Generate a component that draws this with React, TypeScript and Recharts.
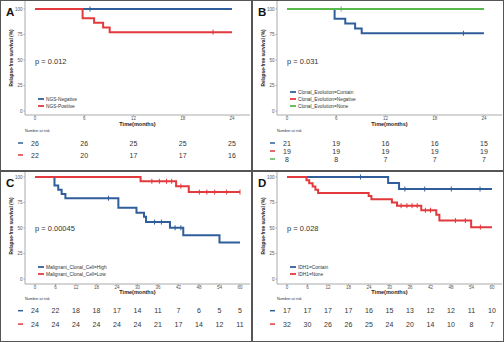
import React from 'react'
import { LineChart, Line, XAxis, YAxis, ScatterChart, Scatter } from 'recharts'

const BLUE = '#2f5e9b'
const RED = '#e2393d'
const GREEN = '#58b84e'
const FONT = '"Liberation Sans", Arial, sans-serif'

type Pt = { t: number; s: number; c?: boolean }

const months24 = [0, 6, 12, 18, 24]
const months60 = [0, 6, 12, 18, 24, 30, 36, 42, 48, 54, 60]
const survTicks = [0, 25, 50, 75, 100]

// A: NGS
const ngsNegative: Pt[] = [{ t: 0, s: 100 }, { t: 6.7, s: 100, c: true }, { t: 24, s: 100 }]
const ngsPositive: Pt[] = [
  { t: 0, s: 100 }, { t: 5.8, s: 90.9 }, { t: 7.2, s: 86.4 }, { t: 8.3, s: 81.8 },
  { t: 9.1, s: 77.3 }, { t: 21.7, s: 77.3, c: true }, { t: 24, s: 77.3 },
]
const riskNgsNegative = [26, 26, 25, 25, 25]
const riskNgsPositive = [22, 20, 17, 17, 16]

// B: clonal evolution
const clonalContain: Pt[] = [
  { t: 0, s: 100 }, { t: 5.8, s: 90.5 }, { t: 7.1, s: 85.7 }, { t: 8.3, s: 81.0 },
  { t: 9.1, s: 76.2 }, { t: 21.5, s: 76.2, c: true }, { t: 24, s: 76.2 },
]
const clonalNegative: Pt[] = [{ t: 0, s: 100 }, { t: 24, s: 100 }]
const clonalNone: Pt[] = [{ t: 0, s: 100 }, { t: 6.6, s: 100, c: true }, { t: 24, s: 100 }]
const riskClonalContain = [21, 19, 16, 16, 15]
const riskClonalNegative = [19, 19, 19, 19, 19]
const riskClonalNone = [8, 8, 7, 7, 7]

// C: malignant clonal cell
const cellHigh: Pt[] = [
  { t: 0, s: 100 }, { t: 5.7, s: 91.7 }, { t: 6.8, s: 87.5 }, { t: 7.8, s: 83.3 },
  { t: 8.9, s: 79.2 }, { t: 21.5, s: 79.2, c: true }, { t: 24.4, s: 69.9 },
  { t: 29.7, s: 64.9 }, { t: 31.9, s: 61.0 }, { t: 32.5, s: 55.8 },
  { t: 35.0, s: 55.8, c: true }, { t: 37.0, s: 55.8, c: true }, { t: 39.5, s: 50.2 },
  { t: 41.0, s: 50.2, c: true }, { t: 42.7, s: 50.2, c: true }, { t: 43.4, s: 42.9 },
  { t: 54.0, s: 35.8 }, { t: 60, s: 35.8 },
]
const cellLow: Pt[] = [
  { t: 0, s: 100 }, { t: 30.9, s: 95.8 }, { t: 34.2, s: 95.8, c: true },
  { t: 36.4, s: 95.8, c: true }, { t: 38.5, s: 95.8, c: true }, { t: 40.0, s: 95.8, c: true },
  { t: 41.3, s: 91.0 }, { t: 42.7, s: 91.0, c: true }, { t: 45.0, s: 85.2 },
  { t: 48.1, s: 85.2, c: true }, { t: 50.3, s: 85.2, c: true }, { t: 52.6, s: 85.2, c: true },
  { t: 56.1, s: 85.2, c: true }, { t: 60, s: 85.2, c: true },
]
const riskCellHigh = [24, 22, 18, 18, 17, 14, 11, 7, 6, 5, 5]
const riskCellLow = [24, 24, 24, 24, 24, 24, 21, 17, 14, 12, 11]

// D: IDH1
const idhContain: Pt[] = [
  { t: 0, s: 100 }, { t: 21.5, s: 100, c: true }, { t: 29.6, s: 94.1 }, { t: 32.8, s: 88.2 },
  { t: 34.5, s: 88.2, c: true }, { t: 40.3, s: 88.2, c: true }, { t: 48.1, s: 88.2, c: true },
  { t: 56.5, s: 88.2, c: true }, { t: 60, s: 88.2 },
]
const idhNone: Pt[] = [
  { t: 0, s: 100 }, { t: 5.7, s: 96.9 }, { t: 6.5, s: 93.8 }, { t: 7.5, s: 90.6 },
  { t: 8.3, s: 87.5 }, { t: 9.1, s: 84.4 }, { t: 23.9, s: 81.3 }, { t: 24.7, s: 78.1 },
  { t: 30.7, s: 75.0 }, { t: 32.2, s: 71.9 }, { t: 33.4, s: 71.9, c: true },
  { t: 35.1, s: 71.9, c: true }, { t: 36.6, s: 71.9, c: true }, { t: 38.1, s: 71.9, c: true },
  { t: 39.3, s: 67.4 }, { t: 40.5, s: 67.4, c: true }, { t: 42.0, s: 67.4, c: true },
  { t: 43.7, s: 63.0 }, { t: 44.6, s: 57.3 }, { t: 49.3, s: 57.3, c: true },
  { t: 52.2, s: 57.3, c: true }, { t: 53.9, s: 50.8 }, { t: 56.6, s: 50.8, c: true },
  { t: 60, s: 50.8 },
]
const riskIdhContain = [17, 17, 17, 17, 16, 15, 13, 12, 12, 11, 10]
const riskIdhNone = [32, 30, 26, 26, 25, 24, 20, 14, 10, 8, 7]

type Series = { name: string; color: string; data: Pt[] }

const geo24 = {
  xDomain: [-1.22, 26.2], yDomain: [-3.92, 107.84], plotBottom: 115,
  xTitleY: 124, riskHeadY: 131, yTitleY: 58, pY: 61,
}
const geo60 = {
  xDomain: [-2.93, 62.93], yDomain: [-4.9, 104.9], plotBottom: 113,
  xTitleY: 121, riskHeadY: 128, yTitleY: 55, pY: 57,
}

const censorDot = (color: string) => (props: any) => {
  const { cx, cy, payload, index } = props
  if (!payload || !payload.c) return <g key={index} />
  return <line key={index} x1={cx} x2={cx} y1={cy - 2.5} y2={cy + 2.5} stroke={color} strokeWidth={1} />
}

const riskText = (props: any) => (
  <text x={props.cx} y={props.cy} textAnchor="middle" dominantBaseline="central"
    fontSize={7} fill="#333" fontFamily={FONT}>{props.payload.n}</text>
)

interface PanelProps {
  letter: string
  left: number
  top: number
  geo: typeof geo24
  times: number[]
  series: Series[]
  risk: { color: string; values: number[] }[]
  riskTop: number
  riskH: number
  pValue: string
  legendY: number[]
}

const Panel = ({ letter, left, top, geo, times, series, risk, riskTop, riskH, pValue, legendY }: PanelProps) => {
  const rows = risk.length
  const riskData = risk.map((r, i) => times.map((t, j) => ({ t, row: rows - i, n: r.values[j] })))
  const rowColor = (v: number) => risk[rows - v]?.color ?? '#000'
  const tickStyle = { fontSize: 4.5, fill: '#555', fontFamily: FONT }

  return (
    <div style={{ position: 'absolute', left, top, width: 252, height: 171, boxSizing: 'border-box', border: '1px solid #555', overflow: 'hidden', background: '#fff' }}>
      <div style={{ position: 'absolute', left: -1, top: -1 }}>
        <LineChart width={252} height={geo.plotBottom + 14} margin={{ top: 1, right: 2, bottom: 0, left: 0 }}>
          <XAxis type="number" dataKey="t" domain={geo.xDomain} ticks={times} allowDataOverflow interval={0}
            height={14} tickSize={1.5} tickMargin={0.5} tick={tickStyle}
            axisLine={{ stroke: '#aaa' }} tickLine={{ stroke: '#aaa' }} />
          <YAxis type="number" domain={geo.yDomain} ticks={survTicks} allowDataOverflow width={25} interval={0}
            tickSize={1.5} tickMargin={1} tick={tickStyle}
            axisLine={{ stroke: '#aaa' }} tickLine={{ stroke: '#aaa' }} />
          <YAxis yAxisId="frame" orientation="right" type="number" domain={[0, 1]} width={0}
            tick={false} tickLine={false} axisLine={{ stroke: '#ddd' }} />
          {series.map((s) => (
            <Line key={s.name} data={s.data} dataKey="s" type="stepAfter" stroke={s.color}
              strokeWidth={2} dot={censorDot(s.color)} activeDot={false} isAnimationActive={false} />
          ))}
        </LineChart>
      </div>
      <div style={{ position: 'absolute', left: -1, top: riskTop - 1 }}>
        <ScatterChart width={252} height={riskH} margin={{ top: 0, right: 2, bottom: 0, left: 0 }}>
          <XAxis type="number" dataKey="t" domain={geo.xDomain} allowDataOverflow hide />
          <YAxis type="number" dataKey="row" domain={[0.5, rows + 0.5]} ticks={risk.map((_, i) => i + 1)}
            interval={0} width={25} axisLine={false} tickLine={false} tickSize={0} tickMargin={0}
            tick={(p: any) => (
              <line key={p.index} x1={p.x - 7} x2={p.x - 2} y1={p.y} y2={p.y}
                stroke={rowColor(p.payload.value)} strokeWidth={1.5} />
            )} />
          {riskData.map((d, i) => (
            <Scatter key={i} data={d} shape={riskText} isAnimationActive={false} />
          ))}
        </ScatterChart>
      </div>
      <svg width={252} height={171} style={{ position: 'absolute', left: -1, top: -1, pointerEvents: 'none' }}
        fontFamily={FONT}>
        <text x={6} y={15.5} fontSize={11.5} fontWeight="bold" fill="#111">{letter}</text>
        <text x={11} y={geo.yTitleY} transform={`rotate(-90 11 ${geo.yTitleY})`} textAnchor="middle"
          dominantBaseline="central" fontSize={4.8} fontWeight="bold" fill="#222">Relapse-free survival (%)</text>
        <text x={137.5} y={geo.xTitleY} textAnchor="middle" dominantBaseline="central" fontSize={5.5}
          fontWeight="bold" fill="#222">Time(months)</text>
        <text x={35} y={geo.pY} dominantBaseline="central" fontSize={7.5} fill="#333">{pValue}</text>
        {series.map((s, i) => (
          <g key={s.name}>
            <line x1={38} x2={44} y1={legendY[i]} y2={legendY[i]} stroke={s.color} strokeWidth={1.8} />
            <text x={46} y={legendY[i]} dominantBaseline="central" fontSize={4.8} fill="#333">{s.name}</text>
          </g>
        ))}
        <text x={25} y={geo.riskHeadY} dominantBaseline="central" fontSize={3.8} fill="#333">Number at risk</text>
      </svg>
    </div>
  )
}

export default function App() {
  return (
    <div style={{ position: 'absolute', left: 0, top: 0, width: 504, height: 342, background: '#fff' }}>
      <Panel letter="A" left={0} top={0} geo={geo24} times={months24} pValue="p = 0.012"
        series={[
          { name: 'NGS-Negative', color: BLUE, data: ngsNegative },
          { name: 'NGS-Positive', color: RED, data: ngsPositive },
        ]}
        risk={[{ color: BLUE, values: riskNgsNegative }, { color: RED, values: riskNgsPositive }]}
        riskTop={137} riskH={24} legendY={[99, 106]} />
      <Panel letter="B" left={252} top={0} geo={geo24} times={months24} pValue="p = 0.031"
        series={[
          { name: 'Clonal_Evolution=Contain', color: BLUE, data: clonalContain },
          { name: 'Clonal_Evolution=Negative', color: RED, data: clonalNegative },
          { name: 'Clonal_Evolution=None', color: GREEN, data: clonalNone },
        ]}
        risk={[
          { color: BLUE, values: riskClonalContain },
          { color: RED, values: riskClonalNegative },
          { color: GREEN, values: riskClonalNone },
        ]}
        riskTop={139} riskH={24} legendY={[92, 99, 106]} />
      <Panel letter="C" left={0} top={171} geo={geo60} times={months60} pValue="p = 0.00045"
        series={[
          { name: 'Malignant_Clonal_Cell=High', color: BLUE, data: cellHigh },
          { name: 'Malignant_Clonal_Cell=Low', color: RED, data: cellLow },
        ]}
        risk={[{ color: BLUE, values: riskCellHigh }, { color: RED, values: riskCellLow }]}
        riskTop={132.6} riskH={26.8} legendY={[96, 103]} />
      <Panel letter="D" left={252} top={171} geo={geo60} times={months60} pValue="p = 0.028"
        series={[
          { name: 'IDH1=Contain', color: BLUE, data: idhContain },
          { name: 'IDH1=None', color: RED, data: idhNone },
        ]}
        risk={[{ color: BLUE, values: riskIdhContain }, { color: RED, values: riskIdhNone }]}
        riskTop={132.6} riskH={26.8} legendY={[96, 103]} />
    </div>
  )
}
